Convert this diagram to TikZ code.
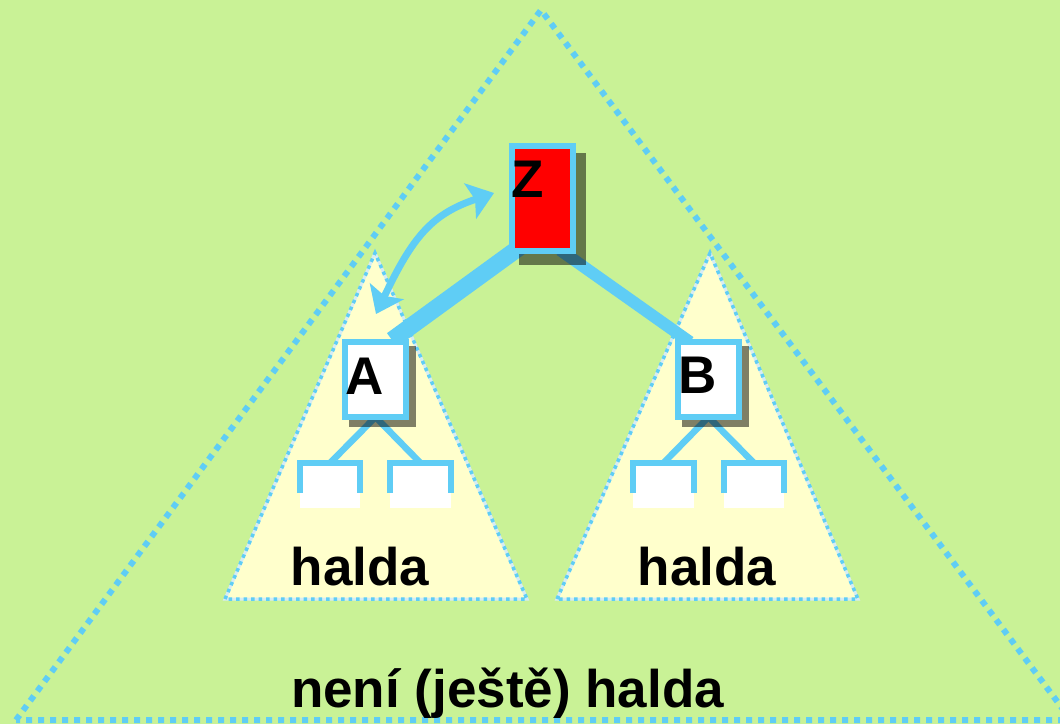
\documentclass[tikz,border=0pt]{standalone}
\usepackage{fontspec}
\setmainfont{Liberation Sans}
\usetikzlibrary{arrows.meta}
\definecolor{bggreen}{RGB}{201,242,150}
\definecolor{lblue}{RGB}{95,205,245}
\definecolor{lyellow}{RGB}{255,255,204}
\definecolor{pale}{RGB}{214,236,244}
\begin{document}
\begin{tikzpicture}[x=1pt,y=-1pt,
  bigtri/.style={draw=lblue,line width=6pt,dash pattern=on 6pt off 6pt},
  subtri/.style={fill=lyellow,draw=pale,line width=3pt},
  subdots/.style={draw=lblue,line width=3.5pt,dash pattern=on 3.5pt off 4pt},
  keybox/.style={draw=lblue,line width=6.5pt,rectangle,inner sep=0pt,outer sep=0pt},
  childbox/.style={fill=white,rectangle,inner sep=0pt,outer sep=0pt,minimum width=60pt,minimum height=45pt},
  bracket/.style={draw=lblue,line width=6.5pt},
  link/.style={draw=lblue,line width=6.5pt},
  shadowbox/.style={fill=black,fill opacity=0.5},
  bigtip/.tip={Stealth[length=25pt,width=37pt,inset=5pt]},
  lab/.style={font=\fontsize{53}{60}\selectfont\bfseries,inner sep=0pt,anchor=base}
]
\useasboundingbox (0,0) rectangle (1060,724);
\fill[bggreen] (0,0) rectangle (1060,724);

% big triangle
\draw[bigtri] (16,720) -- (541,10) -- (1071,720) -- cycle;

% sub-heap triangles
\path[subtri] (225,599) -- (375,253) -- (527,599) -- cycle;
\path[subdots] (225,599) -- (375,253) -- (527,599) -- cycle;
\path[subtri] (557,599) -- (710,253) -- (858,599) -- cycle;
\path[subdots] (557,599) -- (710,253) -- (858,599) -- cycle;

% node placement
\node[keybox,fill=red,minimum width=61pt,minimum height=105pt] (Z) at (542.5,198.5) {};
\node[keybox,fill=white,minimum width=61pt,minimum height=75pt] (A) at (375.5,379.5) {};
\node[keybox,fill=white,minimum width=61pt,minimum height=75pt] (B) at (708.5,379.5) {};

% edges from Z (behind shadows)
\coordinate (zl) at (524,244);
\coordinate (zr) at (560,250);
\coordinate (at) at (392,340);
\coordinate (bt) at (690,342);
\draw[lblue,line width=17pt] (zl) -- (at);
\draw[lblue,line width=12pt] (zr) -- (bt);

% children
\node[childbox] (a1) at (330,485.5) {};
\node[childbox,minimum width=61pt] (a2) at (420.5,485.5) {};
\node[childbox,minimum width=61pt] (b1) at (663.5,485.5) {};
\node[childbox] (b2) at (754,485.5) {};
\foreach \c in {a1,a2,b1,b2}{
  \draw[bracket] ([yshift=15pt]\c.south west) |- (\c.north) -| ([yshift=15pt]\c.south east);
}
\draw[link] (A.south) -- (a1.north);
\draw[link] (A.south) -- (a2.north);
\draw[link] (B.south) -- (b1.north);
\draw[link] (B.south) -- (b2.north);

% shadows
\fill[shadowbox] (519,153) rectangle (586,265);
\fill[shadowbox] (349,346) rectangle (416,427);
\fill[shadowbox] (682,346) rectangle (749,427);

% redraw nodes on top
\node[keybox,fill=red,minimum width=61pt,minimum height=105pt] at (Z) {};
\node[keybox,fill=white,minimum width=61pt,minimum height=75pt] at (A) {};
\node[keybox,fill=white,minimum width=61pt,minimum height=75pt] at (B) {};

% swap arrow
\coordinate (arrS) at (376,314);
\coordinate (arrE) at (494,193);
\draw[lblue,line width=7pt,{bigtip}-{bigtip}]
  (arrS) .. controls (413,236) and (432,214) .. (arrE);

% labels
\node[lab] (zt) at (528,197) {Z};
\node[lab] (atx) at (365,394) {A};
\node[lab] (btx) at (697.5,393) {B};
\node[lab] (h1) at (360,585) {halda};
\node[lab] (h2) at (707,585) {halda};
\node[lab] (nh) at (507.5,707) {není (ještě) halda};
\end{tikzpicture}
\end{document}
